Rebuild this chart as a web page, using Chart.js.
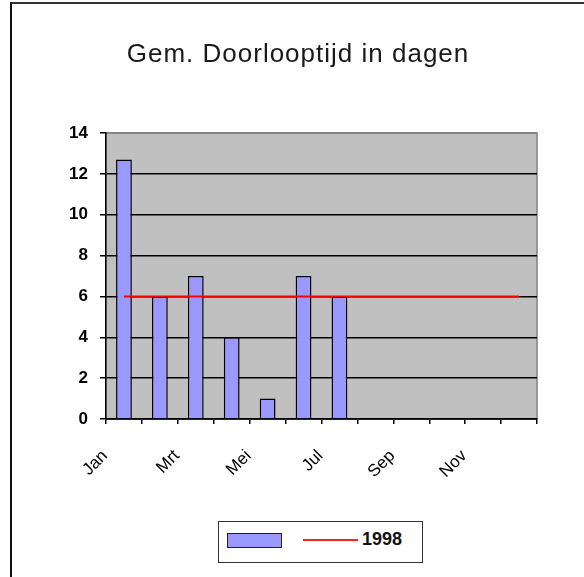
<!DOCTYPE html>
<html lang="nl">
<head>
<meta charset="UTF-8">
<title>Gem. Doorlooptijd in dagen</title>
<script src="https://cdn.jsdelivr.net/npm/chart.js"></script>
<style>
  body{margin:0;padding:0;background:#fff;font-family:"Liberation Sans",Arial,sans-serif}
  #wrap{position:relative;width:584px;height:577px;overflow:hidden}
  #kader{position:absolute;left:10px;top:2px;width:600px;height:600px;border-left:2px solid #111;border-top:2px solid #333}
  canvas{position:absolute;left:0;top:0}
  #legenda{position:absolute;left:218px;top:521px;width:203px;height:40px;border:1.5px solid #333;background:#fff}
  #legenda .balk{position:absolute;left:8px;top:11px;width:53px;height:13px;background:#9999ff;border:1.5px solid #222}
  #legenda .lijn{position:absolute;left:84px;top:17px;width:55px;height:2px;background:#ff2020}
  #legenda .tekst{position:absolute;left:143px;top:7px;font:bold 18px "Liberation Sans",Arial,sans-serif;color:#111}
</style>
</head>
<body>
<div id="wrap">
  <div id="kader"></div>
  <canvas id="grafiek" width="584" height="577"></canvas>
  <div id="legenda"><div class="balk"></div><div class="lijn"></div><div class="tekst">1998</div></div>
</div>
<script>
// --- gegevens ---
const titel = "Gem. Doorlooptijd in dagen";
const maanden = ["Jan","Feb","Mrt","Apr","Mei","Jun","Jul","Aug","Sep","Okt","Nov","Dec"];
const doorlooptijd = [12.7, 6, 7, 4, 1, 7, 6, null, null, null, null, null];
const norm1998 = [6, 6, 6, 6, 6, 6, 6, 6, 6, 6, 6, 6];
const yMin = 0, yMax = 14, yStap = 2;

// grijze achtergrond + rand van het plotgebied
const achtergrond = {
  id: "achtergrond",
  beforeDraw(chart){
    const {ctx, chartArea:a} = chart;
    ctx.save();
    ctx.fillStyle = "#c0c0c0";
    ctx.fillRect(a.left, a.top, a.right - a.left, a.bottom - a.top);
    ctx.strokeStyle = "#808080";
    ctx.lineWidth = 1.5;
    ctx.strokeRect(a.left, a.top, a.right - a.left, a.bottom - a.top);
    ctx.restore();
  }
};

// titel met wat letterafstand (zoals het origineel)
const titelPlugin = {
  id: "titelPlugin",
  afterDraw(chart){
    const ctx = chart.ctx;
    ctx.save();
    ctx.font = '26px "Liberation Sans", Arial, sans-serif';
    if ("letterSpacing" in ctx) ctx.letterSpacing = "1px";
    ctx.fillStyle = "#1a1a1a";
    ctx.textAlign = "center";
    ctx.textBaseline = "alphabetic";
    ctx.fillText(titel, 298, 62);
    ctx.restore();
  }
};

new Chart(document.getElementById("grafiek"), {
  data: {
    labels: maanden,
    datasets: [
      {
        type: "line",
        label: "1998",
        data: norm1998,
        borderColor: "#ff0000",
        borderWidth: 2,
        pointRadius: 0,
        fill: false,
        order: 0
      },
      {
        type: "bar",
        label: "",
        data: doorlooptijd,
        backgroundColor: "#9999ff",
        borderColor: "#000",
        borderWidth: 1.5,
        categoryPercentage: 1,
        barPercentage: 0.44,
        order: 1
      }
    ]
  },
  options: {
    responsive: false,
    animation: false,
    layout: {padding: {top: 133, right: 47, bottom: 0, left: 0}},
    plugins: {legend: {display: false}, title: {display: false}, tooltip: {enabled: false}},
    scales: {
      x: {
        offset: true,
        grid: {offset: true, drawOnChartArea: false, drawTicks: true, tickLength: 5, tickColor: "#000", lineWidth: 1.5},
        border: {color: "#000", width: 1.5},
        ticks: {
          autoSkip: false,
          maxRotation: 45,
          minRotation: 45,
          padding: 22,
          labelOffset: -19,
          color: "#000",
          font: {family: '"Liberation Sans", Arial, sans-serif', size: 17},
          callback: (v, i) => i % 2 === 0 ? maanden[i] : ""
        },
        afterFit: s => { s.height = 158; }
      },
      y: {
        min: yMin,
        max: yMax,
        grid: {
          color: c => c.tick && c.tick.value === yMax ? "#808080" : "#000",
          lineWidth: 1.5,
          tickLength: 6,
          tickColor: "#000"
        },
        border: {color: "#000", width: 1.5},
        ticks: {
          stepSize: yStap,
          padding: 12,
          color: "#000",
          font: {family: '"Liberation Sans", Arial, sans-serif', size: 17, weight: "bold"}
        },
        afterFit: s => { s.width = 106; }
      }
    }
  },
  plugins: [achtergrond, titelPlugin]
});
</script>
</body>
</html>
